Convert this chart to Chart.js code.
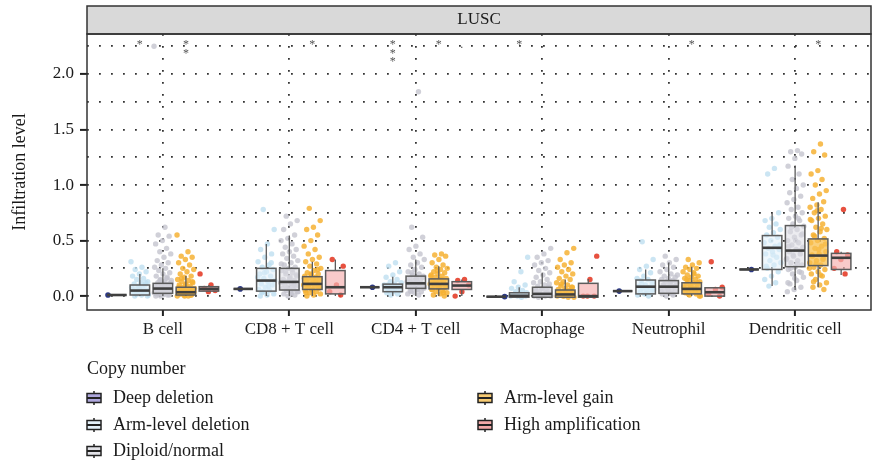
<!DOCTYPE html>
<html>
<head>
<meta charset="utf-8">
<script src="https://cdn.jsdelivr.net/npm/chart.js@4.4.1/dist/chart.umd.min.js"></script>
<style>
  html, body { margin: 0; padding: 0; background: #fff; }
  #wrap { width: 878px; height: 467px; }
</style>
</head>
<body>
<div id="wrap"><canvas id="chart" width="878" height="467"></canvas></div>
<script>
const categories = ['B cell', 'CD8 + T cell', 'CD4 + T cell', 'Macrophage', 'Neutrophil', 'Dendritic cell'];
const groups = ['Deep deletion', 'Arm-level deletion', 'Diploid/normal', 'Arm-level gain', 'High amplification'];

const yTicks = [0, 0.25, 0.5, 0.75, 1.0, 1.25, 1.5, 1.75, 2.0, 2.25];
const yTickLabels = ['0.0', '', '0.5', '', '1.0', '', '1.5', '', '2.0', ''];

// box stats per category: [lower whisker, q1, median, q3, upper whisker]
const boxDeep = [
  [0.01, 0.01, 0.01, 0.01, 0.01], [0.065, 0.065, 0.065, 0.065, 0.065], [0.08, 0.08, 0.08, 0.08, 0.08],
  [-0.005, -0.005, -0.005, -0.005, -0.005], [0.045, 0.045, 0.045, 0.045, 0.045], [0.24, 0.24, 0.24, 0.24, 0.24],
];
const boxArmDel = [
  [0, 0.01, 0.05, 0.1, 0.2], [0, 0.045, 0.14, 0.25, 0.47], [0, 0.04, 0.08, 0.108, 0.175],
  [-0.01, -0.01, 0.003, 0.03, 0.08], [0, 0.02, 0.085, 0.145, 0.24], [0.09, 0.24, 0.435, 0.545, 0.745],
];
const boxDiploid = [
  [0, 0.025, 0.068, 0.115, 0.25], [0, 0.055, 0.128, 0.25, 0.545], [0, 0.07, 0.115, 0.18, 0.33],
  [-0.01, -0.01, 0.02, 0.08, 0.21], [0, 0.025, 0.085, 0.14, 0.3], [0.055, 0.265, 0.41, 0.635, 1.175],
];
const boxGain = [
  [0, 0.01, 0.035, 0.08, 0.18], [0, 0.06, 0.11, 0.175, 0.31], [0, 0.065, 0.11, 0.155, 0.27],
  [-0.01, -0.01, 0.015, 0.055, 0.15], [0, 0.02, 0.065, 0.12, 0.265], [0.08, 0.275, 0.365, 0.515, 0.845],
];
const boxHigh = [
  [0.045, 0.045, 0.065, 0.085, 0.1], [0, 0.02, 0.08, 0.23, 0.33], [0, 0.06, 0.095, 0.13, 0.15],
  [-0.01, -0.01, 0, 0.115, 0.155], [0, 0, 0.035, 0.075, 0.08], [0.19, 0.24, 0.345, 0.385, 0.4],
];

// individual samples
const ptsDeep = [[0.01], [0.065], [0.08], [-0.005], [0.045], [0.24]];
const ptsArmDel = [
  [0.31, 0.26, 0.24, 0.22, 0.2, 0.18, 0.16, 0.15, 0.13, 0.12, 0.11, 0.1, 0.09, 0.08, 0.07, 0.06, 0.05, 0.05, 0.04, 0.03, 0.02, 0.01, 0.01, 0, 0.12, 0.08, 0.06, 0.03, 0.02, 0],
  [0.78, 0.6, 0.47, 0.42, 0.38, 0.35, 0.31, 0.28, 0.26, 0.24, 0.22, 0.2, 0.18, 0.16, 0.14, 0.13, 0.11, 0.1, 0.08, 0.06, 0.05, 0.04, 0.02, 0.01, 0, 0.3, 0.21, 0.17, 0.09, 0.03],
  [0.3, 0.27, 0.22, 0.19, 0.17, 0.15, 0.13, 0.12, 0.11, 0.1, 0.09, 0.08, 0.08, 0.07, 0.06, 0.05, 0.04, 0.03, 0.02, 0.01, 0.1, 0.07, 0.05],
  [0.35, 0.22, 0.13, 0.1, 0.08, 0.07, 0.05, 0.04, 0.03, 0.02, 0.01, 0.01, 0, 0, -0.01, 0.02, 0],
  [0.49, 0.33, 0.27, 0.24, 0.21, 0.18, 0.16, 0.15, 0.14, 0.12, 0.1, 0.09, 0.08, 0.07, 0.06, 0.05, 0.04, 0.03, 0.02, 0.01, 0, 0.11, 0.06, 0.02],
  [1.15, 1.1, 0.75, 0.7, 0.68, 0.65, 0.62, 0.6, 0.57, 0.55, 0.53, 0.5, 0.48, 0.45, 0.43, 0.42, 0.4, 0.38, 0.35, 0.32, 0.3, 0.28, 0.25, 0.22, 0.18, 0.15, 0.12, 0.09, 0.46, 0.37, 0.27],
];
const ptsDiploid = [
  [2.25, 0.62, 0.55, 0.54, 0.5, 0.47, 0.43, 0.4, 0.38, 0.35, 0.32, 0.3, 0.28, 0.26, 0.25, 0.23, 0.21, 0.2, 0.18, 0.17, 0.15, 0.14, 0.13, 0.12, 0.11, 0.1, 0.09, 0.08, 0.07, 0.07, 0.06, 0.05, 0.05, 0.04, 0.03, 0.03, 0.02, 0.01, 0.01, 0,
    0.16, 0.14, 0.12, 0.11, 0.1, 0.09, 0.08, 0.07, 0.06, 0.05, 0.04, 0.03, 0.02, 0.01, 0],
  [0.72, 0.68, 0.65, 0.6, 0.55, 0.52, 0.5, 0.47, 0.44, 0.42, 0.4, 0.38, 0.36, 0.34, 0.32, 0.3, 0.28, 0.26, 0.25, 0.23, 0.21, 0.2, 0.18, 0.17, 0.15, 0.14, 0.13, 0.12, 0.11, 0.1, 0.09, 0.08, 0.07, 0.06, 0.05, 0.04, 0.03, 0.02, 0.01, 0,
    0.29, 0.24, 0.22, 0.19, 0.16, 0.13, 0.1, 0.07, 0.04, 0.02],
  [1.84, 0.62, 0.53, 0.45, 0.42, 0.38, 0.35, 0.33, 0.3, 0.28, 0.26, 0.24, 0.22, 0.2, 0.19, 0.18, 0.17, 0.16, 0.15, 0.14, 0.13, 0.12, 0.12, 0.11, 0.1, 0.09, 0.09, 0.08, 0.07, 0.06, 0.05, 0.04, 0.03, 0.02, 0.01,
    0.21, 0.17, 0.15, 0.13, 0.11, 0.1, 0.08, 0.06, 0.04],
  [0.43, 0.38, 0.35, 0.32, 0.3, 0.28, 0.25, 0.23, 0.21, 0.19, 0.17, 0.15, 0.13, 0.12, 0.1, 0.09, 0.08, 0.07, 0.06, 0.05, 0.04, 0.03, 0.02, 0.02, 0.01, 0.01, 0, 0, -0.01,
    0.11, 0.07, 0.05, 0.03, 0.01, 0],
  [0.36, 0.33, 0.3, 0.28, 0.26, 0.24, 0.22, 0.2, 0.18, 0.17, 0.16, 0.15, 0.14, 0.13, 0.12, 0.11, 0.1, 0.09, 0.08, 0.07, 0.06, 0.05, 0.04, 0.03, 0.02, 0.01, 0,
    0.19, 0.13, 0.1, 0.08, 0.06, 0.04, 0.02],
  [1.31, 1.3, 1.28, 1.24, 1.17, 1.1, 1.05, 1.0, 0.97, 0.93, 0.9, 0.87, 0.84, 0.8, 0.78, 0.75, 0.72, 0.7, 0.68, 0.65, 0.63, 0.6, 0.58, 0.55, 0.53, 0.5, 0.48, 0.46, 0.44, 0.42, 0.4, 0.38, 0.36, 0.34, 0.32, 0.3, 0.28, 0.26, 0.24, 0.22, 0.2, 0.17, 0.14, 0.11, 0.08, 0.06, 0.04,
    0.7, 0.62, 0.56, 0.5, 0.45, 0.41, 0.37, 0.33, 0.29, 0.25, 0.21, 0.16, 0.12],
];
const ptsGain = [
  [0.55, 0.4, 0.36, 0.35, 0.33, 0.3, 0.28, 0.25, 0.24, 0.22, 0.2, 0.18, 0.17, 0.15, 0.14, 0.13, 0.12, 0.11, 0.1, 0.09, 0.08, 0.07, 0.06, 0.06, 0.05, 0.05, 0.04, 0.04, 0.03, 0.03, 0.02, 0.02, 0.01, 0.01, 0, 0,
    0.16, 0.13, 0.1, 0.08, 0.07, 0.05, 0.04, 0.03, 0.02, 0.01, 0],
  [0.79, 0.68, 0.62, 0.6, 0.55, 0.5, 0.45, 0.42, 0.38, 0.35, 0.33, 0.31, 0.29, 0.27, 0.25, 0.23, 0.21, 0.2, 0.19, 0.18, 0.17, 0.16, 0.15, 0.14, 0.13, 0.12, 0.11, 0.1, 0.09, 0.08, 0.07, 0.06, 0.05, 0.04, 0.03, 0.02, 0.01, 0,
    0.24, 0.2, 0.16, 0.13, 0.1, 0.08, 0.05, 0.03],
  [0.38, 0.37, 0.36, 0.33, 0.3, 0.28, 0.26, 0.25, 0.24, 0.22, 0.21, 0.2, 0.19, 0.18, 0.17, 0.16, 0.15, 0.14, 0.13, 0.12, 0.11, 0.1, 0.09, 0.08, 0.07, 0.06, 0.05, 0.04, 0.03, 0.02, 0.01, 0,
    0.23, 0.18, 0.15, 0.12, 0.1, 0.08, 0.06, 0.03],
  [0.43, 0.39, 0.33, 0.3, 0.28, 0.26, 0.24, 0.22, 0.2, 0.18, 0.16, 0.15, 0.13, 0.12, 0.1, 0.09, 0.08, 0.07, 0.06, 0.05, 0.04, 0.03, 0.02, 0.01, 0.01, 0, 0, -0.01,
    0.11, 0.08, 0.05, 0.03, 0.02, 0, -0.01],
  [0.33, 0.3, 0.28, 0.26, 0.25, 0.24, 0.22, 0.2, 0.19, 0.18, 0.17, 0.16, 0.15, 0.14, 0.13, 0.12, 0.11, 0.1, 0.09, 0.08, 0.07, 0.06, 0.05, 0.04, 0.03, 0.02, 0.01, 0,
    0.21, 0.15, 0.12, 0.09, 0.07, 0.04, 0.02, 0],
  [1.37, 1.3, 1.27, 1.13, 1.1, 1.05, 1.0, 0.95, 0.92, 0.88, 0.85, 0.82, 0.8, 0.78, 0.75, 0.72, 0.7, 0.68, 0.65, 0.62, 0.6, 0.58, 0.55, 0.52, 0.5, 0.48, 0.45, 0.43, 0.4, 0.38, 0.36, 0.34, 0.32, 0.3, 0.28, 0.26, 0.24, 0.22, 0.2, 0.18, 0.15, 0.12, 0.1, 0.08, 0.06,
    0.77, 0.69, 0.61, 0.54, 0.47, 0.42, 0.37, 0.33, 0.29, 0.25, 0.19, 0.13],
];
const ptsHigh = [
  [0.2, 0.1, 0.07, 0.05, 0.04],
  [0.33, 0.27, 0.1, 0.04, 0.01],
  [0.15, 0.14, 0.1, 0.04, 0],
  [0.36, 0.15, 0, 0, 0],
  [0.31, 0.08, 0.06, 0.02, 0],
  [0.78, 0.4, 0.37, 0.33, 0.25, 0.2],
];

// significance marks: category index, group index, label
const sigCat = [0, 0, 1, 2, 2, 2, 3, 4, 5];
const sigGroup = [1, 3, 3, 1, 3, 4, 1, 3, 3];
const sigText = ['*', '**', '*', '***', '*', '.', '*', '*', '*'];

const boxStats = [boxDeep, boxArmDel, boxDiploid, boxGain, boxHigh];
const pointSets = [ptsDeep, ptsArmDel, ptsDiploid, ptsGain, ptsHigh];

const dodge = [-0.364, -0.182, 0, 0.182, 0.364];
const boxWidth = 0.154;
const pointColors = ['#2d3a86', 'rgba(190,222,240,0.8)', 'rgba(196,196,206,0.8)', 'rgba(246,178,52,0.85)', 'rgba(228,62,42,0.9)'];
const boxFills = ['rgba(150,140,215,0.6)', 'rgba(225,240,250,0.55)', 'rgba(220,220,228,0.55)', 'rgba(248,192,80,0.75)', 'rgba(247,180,180,0.7)'];
const keyFills = ['#aea7dc', '#e4f1fa', '#e2e2e7', '#f7cb73', '#f3a9a9'];
const FONT = "'Liberation Serif', 'DejaVu Serif', serif";

function jitter(i) {
  return (((i * 0.6180339) % 1) * 2 - 1) * 0.07;
}

const datasets = pointSets.map((sets, g) => ({
  label: groups[g],
  data: sets.flatMap((vals, c) => vals.map((v, i) => ({ x: c + dodge[g] + jitter(i + c * 7), y: v }))),
  backgroundColor: pointColors[g],
  borderWidth: 0,
  pointRadius: g === 0 ? 2.8 : 2.7,
}));

const boxPlugin = {
  id: 'boxes',
  afterDatasetsDraw(chart) {
    const { ctx, scales: { x, y } } = chart;
    const half = (x.getPixelForValue(boxWidth) - x.getPixelForValue(0)) / 2;
    ctx.save();
    boxStats.forEach((rows, g) => {
      rows.forEach((s, c) => {
        const cx = x.getPixelForValue(c + dodge[g]);
        const [lo, q1, med, q3, hi] = s.map(v => y.getPixelForValue(v));
        ctx.strokeStyle = '#5c5c5c';
        ctx.lineWidth = 1.3;
        ctx.beginPath();
        ctx.moveTo(cx, q1); ctx.lineTo(cx, lo);
        ctx.moveTo(cx, q3); ctx.lineTo(cx, hi);
        ctx.stroke();
        ctx.fillStyle = boxFills[g];
        ctx.fillRect(cx - half, q3, 2 * half, q1 - q3);
        ctx.lineWidth = 1.5;
        ctx.strokeRect(cx - half, q3, 2 * half, q1 - q3);
        ctx.strokeStyle = '#3f3f3f';
        ctx.lineWidth = 2.6;
        ctx.beginPath();
        ctx.moveTo(cx - half, med); ctx.lineTo(cx + half, med);
        ctx.stroke();
      });
    });
    // significance stars
    ctx.fillStyle = '#555';
    ctx.font = '12px ' + FONT;
    ctx.textAlign = 'center';
    ctx.textBaseline = 'middle';
    sigText.forEach((t, k) => {
      const cx = x.getPixelForValue(sigCat[k] + dodge[sigGroup[k]]);
      const y0 = y.getPixelForValue(2.28);
      if (t === '.') {
        ctx.fillText('.', cx, y0 + 2);
      } else {
        for (let j = 0; j < t.length; j++) ctx.fillText('*', cx, y0 + j * 8.5 + 2);
      }
    });
    ctx.restore();
  },
  afterDraw(chart) {
    const { ctx, chartArea: a } = chart;
    ctx.save();
    // strip
    ctx.fillStyle = '#d9d9d9';
    ctx.fillRect(a.left, 6, a.right - a.left, a.top - 6);
    ctx.strokeStyle = '#333';
    ctx.lineWidth = 1.5;
    ctx.strokeRect(a.left, 6, a.right - a.left, a.top - 6);
    ctx.strokeRect(a.left, a.top, a.right - a.left, a.bottom - a.top);
    ctx.fillStyle = '#1a1a1a';
    ctx.font = '17px ' + FONT;
    ctx.textAlign = 'center';
    ctx.textBaseline = 'middle';
    ctx.fillText('LUSC', (a.left + a.right) / 2, 20);

    // legend
    ctx.textAlign = 'left';
    ctx.font = '18px ' + FONT;
    ctx.fillText('Copy number', 87, 369);
    const slots = [[87, 398], [87, 425], [87, 451], [478, 398], [478, 425]];
    groups.forEach((name, g) => {
      const [lx, ly] = slots[g];
      ctx.strokeStyle = '#222';
      ctx.lineWidth = 1.5;
      ctx.beginPath();
      ctx.moveTo(lx + 7, ly - 7); ctx.lineTo(lx + 7, ly + 7);
      ctx.stroke();
      ctx.fillStyle = keyFills[g];
      ctx.fillRect(lx, ly - 4.5, 14, 9);
      ctx.strokeRect(lx, ly - 4.5, 14, 9);
      ctx.lineWidth = 2;
      ctx.beginPath();
      ctx.moveTo(lx, ly); ctx.lineTo(lx + 14, ly);
      ctx.stroke();
      ctx.fillStyle = '#1a1a1a';
      ctx.fillText(name, lx + 26, ly);
    });
    ctx.restore();
  },
};

new Chart(document.getElementById('chart'), {
  type: 'scatter',
  data: { datasets },
  plugins: [boxPlugin],
  options: {
    responsive: false,
    animation: false,
    layout: { padding: { top: 34, right: 7, left: 0, bottom: 0 } },
    plugins: { legend: { display: false }, tooltip: { enabled: false } },
    scales: {
      x: {
        type: 'linear',
        min: -0.6,
        max: 5.6,
        afterFit: s => { s.height = 157; },
        afterBuildTicks: s => { s.ticks = categories.map((_, i) => ({ value: i })); },
        ticks: {
          callback: v => categories[v],
          autoSkip: false,
          maxRotation: 0,
          color: '#1a1a1a',
          font: { family: FONT, size: 17 },
          padding: 3,
        },
        grid: { color: '#333', lineWidth: 1.8, tickColor: '#222', tickLength: 6, tickWidth: 2 },
        border: { display: false, dash: [1.8, 10.2] },
      },
      y: {
        min: -0.125,
        max: 2.36,
        afterFit: s => { s.width = 87; },
        afterBuildTicks: s => { s.ticks = yTicks.map(v => ({ value: v })); },
        ticks: {
          callback: (v, i) => yTickLabels[i],
          color: '#1a1a1a',
          font: { family: FONT, size: 17 },
          padding: 6,
        },
        grid: {
          color: '#333',
          lineWidth: 1.8,
          tickColor: c => (yTickLabels[c.index] ? '#222' : 'rgba(0,0,0,0)'),
          tickLength: 7,
          tickWidth: 2,
        },
        border: { display: false, dash: [1.8, 10.2] },
        title: {
          display: true,
          text: 'Infiltration level',
          color: '#1a1a1a',
          font: { family: FONT, size: 18 },
          padding: { top: 9, bottom: 0 },
        },
      },
    },
  },
});
</script>
</body>
</html>
